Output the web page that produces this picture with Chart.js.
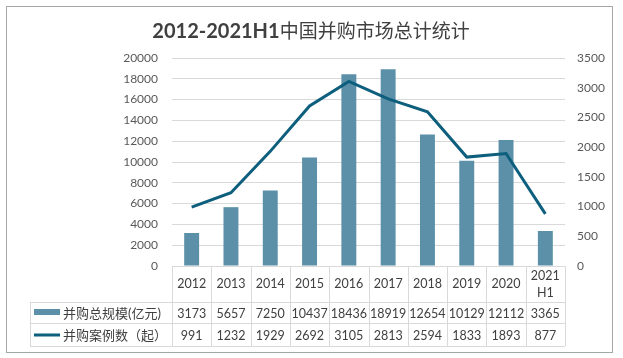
<!DOCTYPE html>
<html>
<head>
<meta charset="utf-8">
<script src="https://cdn.jsdelivr.net/npm/chart.js@4"></script>
<style>
  html, body { margin: 0; padding: 0; background: #fff; }
  #wrap { width: 623px; height: 358px; }
</style>
</head>
<body>
<div id="wrap"><canvas id="chart" width="623" height="358"></canvas></div>
<script>
const years = ['2012', '2013', '2014', '2015', '2016', '2017', '2018', '2019', '2020', ['2021', 'H1']]
const scaleValues = [3173, 5657, 7250, 10437, 18436, 18919, 12654, 10129, 12112, 3365]
const caseCounts = [991, 1232, 1929, 2692, 3105, 2813, 2594, 1833, 1893, 877]
const scaleLabel = '并购总规模(亿元)'
const caseLabel = '并购案例数（起）'
const titleHead = '2012-2021H1'
const titleTail = '中国并购市场总计统计'

const barColor = '#5B90A8'
const lineColor = '#0D5F7D'
const gridColor = '#D9D9D9'
const font = 'Lato, "Noto Sans CJK SC", sans-serif'

const tablePlugin = {
  id: 'dataTable',
  beforeDraw(chart) {
    const ctx = chart.ctx
    ctx.save()
    ctx.strokeStyle = '#A6A6A6'
    ctx.lineWidth = 1
    ctx.strokeRect(6.5, 6.5, 606, 346)
    ctx.restore()
  },
  afterDraw(chart) {
    const ctx = chart.ctx
    const x = chart.scales.x
    const area = chart.chartArea
    const n = years.length
    const colW = (area.right - area.left) / n
    const top = area.bottom
    const r1 = top + 36
    const r2 = r1 + 21
    const r3 = r2 + 23
    const legLeft = 30

    ctx.save()
    // title: bold latin part, lighter chinese part
    ctx.fillStyle = '#404040'
    ctx.textBaseline = 'middle'
    ctx.textAlign = 'left'
    const fHead = 'bold 20px ' + font
    const fTail = '19px "Noto Sans CJK SC", sans-serif'
    ctx.font = fHead
    const wHead = ctx.measureText(titleHead).width
    ctx.font = fTail
    const wTail = ctx.measureText(titleTail).width
    const tx = 311 - (wHead + wTail) / 2
    ctx.font = fHead
    ctx.fillText(titleHead, tx, 32)
    ctx.font = fTail
    ctx.fillText(titleTail, tx + wHead, 31)

    // grid of the table
    ctx.strokeStyle = gridColor
    ctx.lineWidth = 1
    ctx.beginPath()
    ctx.moveTo(area.left, top + 0.5); ctx.lineTo(area.right, top + 0.5)
    ctx.moveTo(legLeft, r1 + 0.5); ctx.lineTo(area.right, r1 + 0.5)
    ctx.moveTo(legLeft, r2 + 0.5); ctx.lineTo(area.right, r2 + 0.5)
    ctx.moveTo(legLeft, r3 + 0.5); ctx.lineTo(area.right, r3 + 0.5)
    ctx.moveTo(legLeft + 0.5, r1); ctx.lineTo(legLeft + 0.5, r3)
    for (let i = 0; i <= n; i++) {
      const xx = Math.round(area.left + i * colW) + 0.5
      ctx.moveTo(xx, top); ctx.lineTo(xx, r3)
    }
    ctx.stroke()

    // header & values
    ctx.fillStyle = '#404040'
    ctx.font = '12.5px ' + font
    ctx.textAlign = 'center'
    ctx.textBaseline = 'middle'
    years.forEach((y, i) => {
      const cx = x.getPixelForValue(i)
      if (Array.isArray(y)) {
        ctx.fillText(y[0], cx, top + 10)
        ctx.fillText(y[1], cx, top + 27)
      } else {
        ctx.fillText(y, cx, (top + r1) / 2)
      }
      ctx.fillText(String(scaleValues[i]), cx, (r1 + r2) / 2 + 1)
      ctx.fillText(String(caseCounts[i]), cx, (r2 + r3) / 2 + 1)
    })

    // legend keys
    ctx.fillStyle = barColor
    ctx.fillRect(34, r1 + 7, 26, 6)
    ctx.strokeStyle = lineColor
    ctx.lineWidth = 3
    ctx.beginPath()
    ctx.moveTo(34, (r2 + r3) / 2 + 0.5)
    ctx.lineTo(60, (r2 + r3) / 2 + 0.5)
    ctx.stroke()
    ctx.fillStyle = '#404040'
    ctx.textAlign = 'left'
    ctx.font = '13px ' + font
    ctx.fillText(scaleLabel, 63, (r1 + r2) / 2 + 1)
    ctx.fillText(caseLabel, 63, (r2 + r3) / 2 + 1)
    ctx.restore()
  }
}

new Chart(document.getElementById('chart'), {
  type: 'bar',
  data: {
    labels: years,
    datasets: [
      {
        type: 'line',
        label: caseLabel,
        data: caseCounts,
        yAxisID: 'y1',
        borderColor: lineColor,
        backgroundColor: lineColor,
        borderWidth: 3,
        pointRadius: 0,
        tension: 0,
        order: 1
      },
      {
        type: 'bar',
        label: scaleLabel,
        data: scaleValues,
        yAxisID: 'y',
        backgroundColor: barColor,
        categoryPercentage: 1,
        barPercentage: 0.38,
        order: 2
      }
    ]
  },
  options: {
    responsive: false,
    animation: false,
    layout: { padding: { top: 58, bottom: 92, left: 0, right: 0 } },
    plugins: {
      legend: { display: false },
      title: { display: false },
      tooltip: { enabled: false }
    },
    scales: {
      x: {
        display: false,
        offset: true
      },
      y: {
        position: 'left',
        min: 0,
        max: 20000,
        ticks: { stepSize: 2000, color: '#595959', padding: 14, font: { family: font, size: 12 }, callback: v => String(v) },
        grid: { color: gridColor, drawTicks: false },
        border: { display: false },
        afterFit: s => { s.width = 172 }
      },
      y1: {
        position: 'right',
        min: 0,
        max: 3500,
        ticks: { stepSize: 500, color: '#595959', padding: 12, font: { family: font, size: 12 }, callback: v => String(v) },
        grid: { display: false, drawTicks: false },
        border: { display: false },
        afterFit: s => { s.width = 58 }
      }
    }
  },
  plugins: [tablePlugin]
})
</script>
</body>
</html>
